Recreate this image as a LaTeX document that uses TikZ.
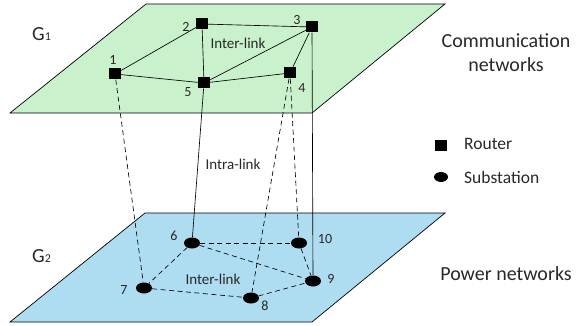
\documentclass[tikz,border=0pt]{standalone}
\usepackage{fontspec}
\setmainfont{Carlito}
\usetikzlibrary{shapes.geometric}
\definecolor{commgreen}{RGB}{200,241,204}
\definecolor{powerblue}{RGB}{174,220,240}
\definecolor{txt}{RGB}{40,40,40}
\tikzset{
  plane/.style={draw=black, line width=0.7pt},
  router/.style={rectangle, fill=black, minimum width=12pt, minimum height=11pt, inner sep=0pt},
  substation/.style={ellipse, fill=black, minimum width=16pt, minimum height=11pt, inner sep=0pt},
  num/.style={font=\fontsize{14}{14}\selectfont, text=txt, inner sep=0pt},
  linklabel/.style={font=\fontsize{15}{15}\selectfont, text=txt, inner sep=0pt},
  biglabel/.style={font=\fontsize{20}{24}\selectfont, text=txt, inner sep=0pt, align=center},
  legendtext/.style={font=\fontsize{17.5}{17.5}\selectfont, text=txt, inner sep=0pt, anchor=west},
  solidlink/.style={line width=0.65pt},
  dashlink/.style={line width=0.65pt, dash pattern=on 5pt off 3.5pt},
}
\begin{document}
\begin{tikzpicture}[x=1pt, y=-1pt]
\useasboundingbox (0,0) rectangle (580,326);

% the two layers
\fill[commgreen] (146,4) -- (445,4) -- (312,113) -- (10,113) -- cycle;
\draw[plane] (146,4) -- (445,4) -- (312,113) -- (10,113) -- cycle;
\fill[powerblue] (145,213) -- (445,213) -- (312,322) -- (10,322) -- cycle;
\draw[plane] (145,213) -- (445,213) -- (312,322) -- (10,322) -- cycle;

% routers of the communication layer
\node[router] (r1) at (115,74) {};
\node[router] (r2) at (202,24) {};
\node[router] (r3) at (312,27) {};
\node[router] (r4) at (290,73) {};
\node[router] (r5) at (204,83) {};

% substations of the power layer
\node[substation] (s6) at (192,243) {};
\node[substation] (s7) at (144,288) {};
\node[substation] (s8) at (251,298) {};
\node[substation] (s9) at (313,281) {};
\node[substation] (s10) at (299,243) {};

% links within the communication layer
\draw[solidlink] (r1) -- (r2);
\draw[solidlink] (r2) -- (r3);
\draw[solidlink] (r2) -- (r5);
\draw[solidlink] (r1) -- (r5);
\draw[solidlink] (r5) -- (r3);
\draw[solidlink] (r5) -- (r4);
\draw[solidlink] (r3) -- (r4);

% links within the power layer
\draw[dashlink] (s6) -- (s10);
\draw[dashlink] (s6) -- (s7);
\draw[dashlink] (s6) -- (s9);
\draw[dashlink] (s7) -- (s8);
\draw[dashlink] (s8) -- (s9);
\draw[dashlink] (s10) -- (s9);

% links between the layers
\draw[dashlink] (r1) -- (s7);
\draw[solidlink] (r5) -- (s6);
\draw[dashlink] (r4) -- (s8);
\draw[dashlink] (r4) -- (s10);
\draw[solidlink] (r3) -- (s9);

% node numbers
\node[num] (n1) at (113,60) {1};
\node[num] (n2) at (186,27) {2};
\node[num] (n3) at (297,20) {3};
\node[num] (n4) at (302,88) {4};
\node[num] (n5) at (188,92) {5};
\node[num] (n6) at (174,236) {6};
\node[num] (n7) at (124,290) {7};
\node[num] (n8) at (265,306) {8};
\node[num] (n9) at (331,279) {9};
\node[num] (n10) at (325,239) {10};

% link labels
\node[linklabel] (il1) at (238,43) {Inter-link};
\node[linklabel] (il2) at (213,279) {Inter-link};
\node[linklabel] (intra) at (233,164) {Intra-link};

% layer names
\node[inner sep=0pt, anchor=base west, text=txt] (g1) at (32,41)
  {\fontsize{20}{20}\selectfont G\fontsize{12}{12}\selectfont 1};
\node[inner sep=0pt, anchor=base west, text=txt] (g2) at (32,262)
  {\fontsize{20}{20}\selectfont G\fontsize{12}{12}\selectfont 2};
\node[biglabel] (comm) at (506,53) {Communication\\networks};
\node[biglabel] (power) at (506,274) {Power networks};

% legend
\node[router] (lr) at (441,145) {};
\node[legendtext] (lrt) at (464,144) {Router};
\node[substation, minimum width=14pt, minimum height=10pt] (ls) at (441,177) {};
\node[legendtext] (lst) at (464,177) {Substation};
\end{tikzpicture}
\end{document}
